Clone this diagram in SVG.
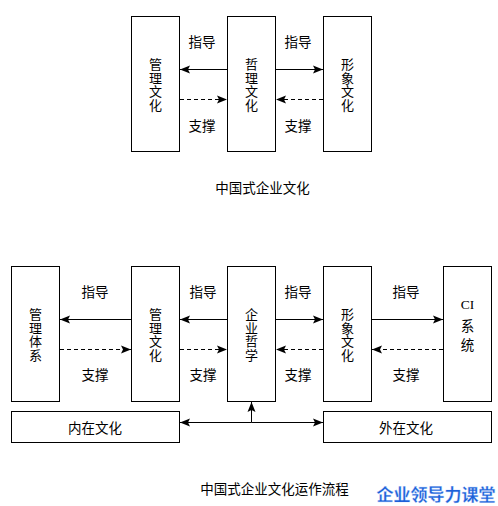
<svg xmlns="http://www.w3.org/2000/svg" width="498" height="506" viewBox="0 0 498 506">
<style>
.box{fill:#fff;stroke:#000;stroke-width:1}
.t{font-family:"Noto Sans CJK SC","Liberation Sans",sans-serif;font-size:13.5px;fill:#000;text-anchor:middle;dominant-baseline:central}
.v{font-size:13px}
.ln{stroke:#000;stroke-width:1;fill:none}
.ds{stroke:#000;stroke-width:1;fill:none;stroke-dasharray:4 3}
.wm{font-family:"Noto Sans CJK SC","Liberation Serif",serif;font-size:17px;font-weight:bold;fill:#1d5fd8;text-anchor:middle;dominant-baseline:central;stroke:#cfe0ff;stroke-width:0.3}
</style>
<defs>
<marker id="ah" markerUnits="userSpaceOnUse" markerWidth="11" markerHeight="9" refX="10" refY="4.5" orient="auto">
<path d="M0,0.5 L10,4.5 L0,8.5 L2,4.5 Z" fill="#000"/>
</marker>
</defs>
<rect width="498" height="506" fill="#fff"/>

<!-- Top diagram -->
<g id="top-mgmt"><rect class="box" x="131.5" y="16.5" width="48" height="135"/>
<text class="t v"><tspan x="155.5" y="63">管</tspan><tspan x="155.5" y="76.5">理</tspan><tspan x="155.5" y="90">文</tspan><tspan x="155.5" y="103.5">化</tspan></text></g>
<g id="top-phil"><rect class="box" x="227.5" y="16.5" width="48" height="135"/>
<text class="t v"><tspan x="251.5" y="63">哲</tspan><tspan x="251.5" y="76.5">理</tspan><tspan x="251.5" y="90">文</tspan><tspan x="251.5" y="103.5">化</tspan></text></g>
<g id="top-image"><rect class="box" x="323.5" y="16.5" width="48" height="135"/>
<text class="t v"><tspan x="347.5" y="63">形</tspan><tspan x="347.5" y="76.5">象</tspan><tspan x="347.5" y="90">文</tspan><tspan x="347.5" y="103.5">化</tspan></text></g>
<text class="t" x="262.5" y="187">中国式企业文化</text>

<!-- Bottom diagram -->
<g id="b-system"><rect class="box" x="11.5" y="266.5" width="48" height="135"/>
<text class="t v"><tspan x="35.5" y="313">管</tspan><tspan x="35.5" y="326.5">理</tspan><tspan x="35.5" y="340">体</tspan><tspan x="35.5" y="353.5">系</tspan></text></g>
<g id="b-mgmt"><rect class="box" x="131.5" y="266.5" width="48" height="135"/>
<text class="t v"><tspan x="155.5" y="313">管</tspan><tspan x="155.5" y="326.5">理</tspan><tspan x="155.5" y="340">文</tspan><tspan x="155.5" y="353.5">化</tspan></text></g>
<g id="b-phil"><rect class="box" x="227.5" y="266.5" width="48" height="135"/>
<text class="t v"><tspan x="251.5" y="313">企</tspan><tspan x="251.5" y="326.5">业</tspan><tspan x="251.5" y="340">哲</tspan><tspan x="251.5" y="353.5">学</tspan></text></g>
<g id="b-image"><rect class="box" x="323.5" y="266.5" width="48" height="135"/>
<text class="t v"><tspan x="347.5" y="313">形</tspan><tspan x="347.5" y="326.5">象</tspan><tspan x="347.5" y="340">文</tspan><tspan x="347.5" y="353.5">化</tspan></text></g>
<g id="b-ci"><rect class="box" x="443.5" y="266.5" width="48" height="135"/>
<text class="t"><tspan x="467.5" y="304" style="font-family:'Liberation Serif',serif">CI</tspan><tspan x="467.5" y="324.5">系</tspan><tspan x="467.5" y="344">统</tspan></text></g>
<g id="b-inner"><rect class="box" x="11.5" y="411.5" width="168" height="31"/>
<text class="t" x="95" y="426.5">内在文化</text></g>
<g id="b-outer"><rect class="box" x="323.5" y="411.5" width="168" height="31"/>
<text class="t" x="406" y="426.5">外在文化</text></g>

<g id="connectors">
<line class="ln" x1="227.5" y1="69.5" x2="180" y2="69.5" marker-end="url(#ah)"/>
<line class="ln" x1="275.5" y1="69.5" x2="323" y2="69.5" marker-end="url(#ah)"/>
<line class="ds" x1="180" y1="99.5" x2="227" y2="99.5" marker-end="url(#ah)"/>
<line class="ds" x1="323" y1="99.5" x2="276" y2="99.5" marker-end="url(#ah)"/>
<line class="ln" x1="131.5" y1="319.5" x2="60" y2="319.5" marker-end="url(#ah)"/>
<line class="ln" x1="227.5" y1="319.5" x2="180" y2="319.5" marker-end="url(#ah)"/>
<line class="ln" x1="275.5" y1="319.5" x2="323" y2="319.5" marker-end="url(#ah)"/>
<line class="ln" x1="371.5" y1="319.5" x2="443" y2="319.5" marker-end="url(#ah)"/>
<line class="ds" x1="60" y1="349.5" x2="131" y2="349.5" marker-end="url(#ah)"/>
<line class="ds" x1="180" y1="349.5" x2="227" y2="349.5" marker-end="url(#ah)"/>
<line class="ds" x1="323" y1="349.5" x2="276" y2="349.5" marker-end="url(#ah)"/>
<line class="ds" x1="443" y1="349.5" x2="372" y2="349.5" marker-end="url(#ah)"/>
<line class="ln" x1="251.5" y1="422.5" x2="180" y2="422.5" marker-end="url(#ah)"/>
<line class="ln" x1="251.5" y1="422.5" x2="323" y2="422.5" marker-end="url(#ah)"/>
<line class="ln" x1="251.5" y1="422.5" x2="251.5" y2="402" marker-end="url(#ah)"/>
</g>

<g id="labels">
<text class="t" x="202" y="41">指导</text>
<text class="t" x="298" y="41">指导</text>
<text class="t" x="202" y="125">支撑</text>
<text class="t" x="298" y="125">支撑</text>
<text class="t" x="95" y="291">指导</text>
<text class="t" x="203" y="291">指导</text>
<text class="t" x="298" y="291">指导</text>
<text class="t" x="406" y="291">指导</text>
<text class="t" x="95" y="374">支撑</text>
<text class="t" x="203" y="374">支撑</text>
<text class="t" x="298" y="374">支撑</text>
<text class="t" x="406" y="374">支撑</text>
</g>

<text class="t" x="274.5" y="488">中国式企业文化运作流程</text>
<text class="wm" x="436" y="493">企业领导力课堂</text>
</svg>
